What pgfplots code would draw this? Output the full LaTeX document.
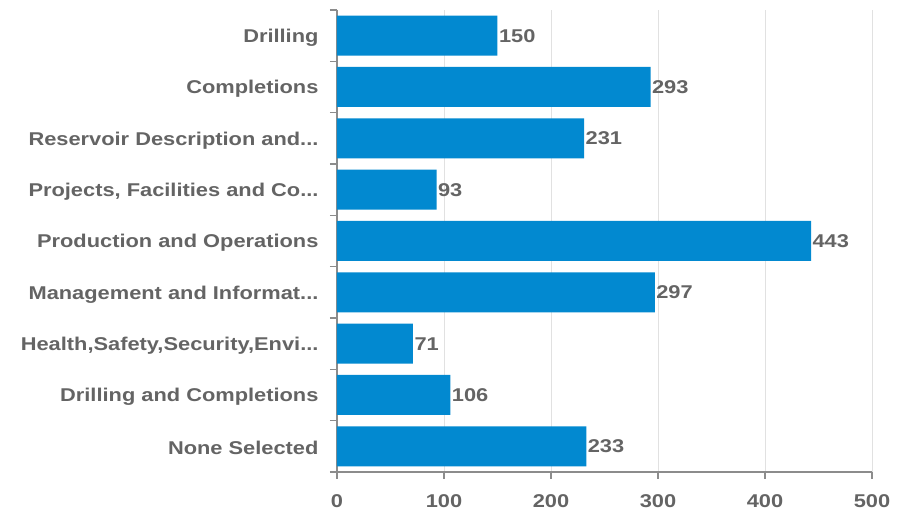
\documentclass[border=0pt]{standalone}
\usepackage{pgfplots}
\pgfplotsset{compat=1.18}
\usepackage{fontspec}
\setmainfont{Liberation Sans}[FakeStretch=1.18]
\definecolor{barblue}{RGB}{2,137,208}
\definecolor{txtgray}{RGB}{100,100,100}
\definecolor{axgray}{RGB}{140,140,140}
\definecolor{gridgray}{RGB}{225,225,225}
\newcommand{\dd}{{.}{.}{.}}
\begin{document}
\begin{tikzpicture}
\begin{axis}[name=ax,
  scale only axis, width=535pt, height=462pt,
  xbar, bar width=40pt,
  y dir=reverse,
  xmin=0, xmax=500, ymin=-0.5, ymax=8.5,
  xtick={0,100,200,300,400,500},
  minor xtick={0,100,200,300,400,500},
  ytick={0,1,2,3,4,5,6,7,8},
  yticklabels={Drilling,Completions,Reservoir Description and\dd,{Projects, Facilities and Co\dd},Production and Operations,Management and Informat\dd,{Health,Safety,Security,Envi\dd},Drilling and Completions,None Selected},
  minor ytick={-0.5,0.5,1.5,2.5,3.5,4.5,5.5,6.5,7.5,8.5},
  axis x line*=bottom, axis y line*=left,
  axis line style={axgray, line width=1.2pt, -},
  tick style={axgray, line width=1.2pt},
  major tick length=0pt, minor tick length=7pt,
  tick align=outside,
  xmajorgrids, grid style={gridgray, line width=0.8pt},
  /pgf/number format/assume math mode=true,
  ticklabel style={font=\fontsize{18.5}{20}\selectfont\bfseries, text=txtgray},
  yticklabel style={xshift=-15pt, yshift=-2pt},
  xticklabel style={yshift=-19pt},
  nodes near coords,
  nodes near coords style={font=\fontsize{18.5}{20}\selectfont\bfseries, text=txtgray, anchor=west, xshift=-2pt},
  clip=false,
]
\addplot[fill=barblue, draw=none] coordinates {
(150,0) (293,1) (231,2) (93,3) (443,4) (297,5) (71,6) (106,7) (233,8)};
\end{axis}
\path ([xshift=-337pt,yshift=-43pt]ax.south west) rectangle ([xshift=35pt,yshift=10pt]ax.north east);
\end{tikzpicture}
\end{document}
